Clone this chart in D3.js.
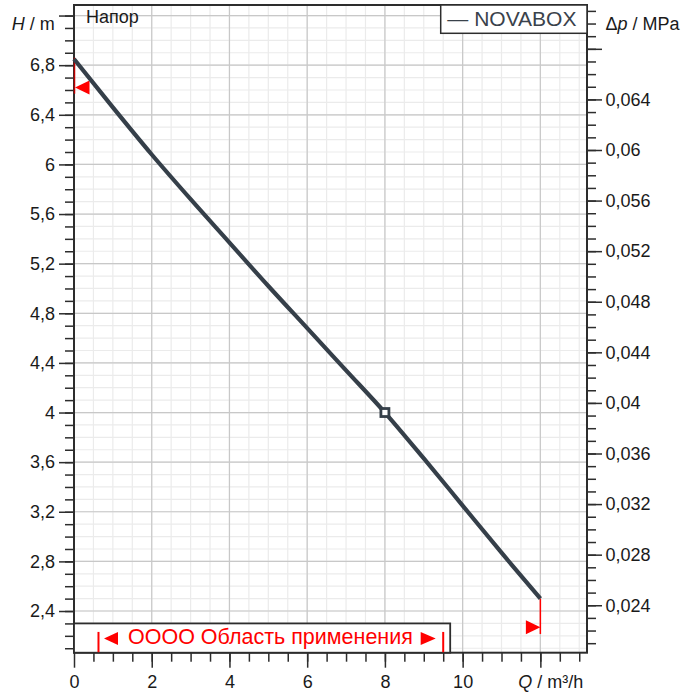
<!DOCTYPE html>
<html>
<head>
<meta charset="utf-8">
<script src="https://cdn.jsdelivr.net/npm/d3@7"></script>
<style>
  html, body { margin: 0; padding: 0; background: #fff; }
  svg { display: block; font-family: "Liberation Sans", Arial, sans-serif; }
</style>
</head>
<body>
<svg id="chart" width="694" height="692"></svg>
<script>
// ---- data ----
const flowQ = [0, 1, 2, 3, 4, 5, 6, 7, 8, 9, 10, 11, 12];
const headH = [6.85, 6.46, 6.08, 5.72, 5.37, 5.02, 4.68, 4.34, 4.00, 3.63, 3.25, 2.87, 2.50];
const dutyPoint = [8, 4.0];
const seriesName = "NOVABOX";
const panelTitle = "Напор";
const xTickLabels = [0, 2, 4, 6, 8, 10];
const xMajorTicks = [0, 2, 4, 6, 8, 10, 12];
const yTickLabels = [2.4, 2.8, 3.2, 3.6, 4, 4.4, 4.8, 5.2, 5.6, 6, 6.4, 6.8];
const yMajorTicks = [2.4, 2.8, 3.2, 3.6, 4, 4.4, 4.8, 5.2, 5.6, 6, 6.4, 6.8, 7.2];
const pTickLabels = [0.024, 0.028, 0.032, 0.036, 0.04, 0.044, 0.048, 0.052, 0.056, 0.06, 0.064];
const pMajorTicks = [0.024, 0.028, 0.032, 0.036, 0.04, 0.044, 0.048, 0.052, 0.056, 0.06, 0.064, 0.068];
const appRangeQ = [0.63, 9.5];
const appBoxQ = [0, 9.68];
const appBoxTopH = 2.3;
const appLabel = "OOOO Область применения";
const leftLimitH = [6.86, 6.57, 6.62];   // line from, line to, arrow position
const rightLimitH = [2.50, 2.215, 2.27];
const MPA_PER_M = 0.00981;

// ---- layout ----
const svg = d3.select("#chart");
const L = 74, R = 587, T = 5, B = 652.7;
const x = d3.scaleLinear().domain([0, 13.2]).range([L, R]);
const y = d3.scaleLinear().domain([2.064, 7.285]).range([B, T]);
const yp = d3.scaleLinear().domain([2.064 * MPA_PER_M, 7.285 * MPA_PER_M]).range([B, T]);

const fmt = d => String(+d.toFixed(3)).replace(".", ",");
const dark = "#2d2d2d";
const curveColor = "#353f49";

// grid
const xMinor = d3.range(0.5, 13.21, 0.5);
const yMinor = d3.range(2.1, 7.29, 0.1);
const g = svg.append("g");
g.selectAll(".vmin").data(xMinor).join("line")
  .attr("x1", d => x(d)).attr("x2", d => x(d)).attr("y1", T).attr("y2", B)
  .attr("stroke", "#ebebeb").attr("stroke-width", 1.2);
g.selectAll(".hmin").data(yMinor).join("line")
  .attr("x1", L).attr("x2", R).attr("y1", d => y(d)).attr("y2", d => y(d))
  .attr("stroke", "#ebebeb").attr("stroke-width", 1.2);
g.selectAll(".vmaj").data(xMajorTicks.slice(1)).join("line")
  .attr("x1", d => x(d)).attr("x2", d => x(d)).attr("y1", T).attr("y2", B)
  .attr("stroke", "#c8c8c8").attr("stroke-width", 1.2);
g.selectAll(".hmaj").data(yMajorTicks).join("line")
  .attr("x1", L).attr("x2", R).attr("y1", d => y(d)).attr("y2", d => y(d))
  .attr("stroke", "#c8c8c8").attr("stroke-width", 1.2);

// axes
function styleAxis(sel) {
  sel.select(".domain").remove();
  sel.selectAll("line").attr("stroke", dark).attr("stroke-width", 1.5);
  sel.selectAll("text").attr("fill", "#1a1a1a").style("font-size", "18px")
     .style("font-family", "'Liberation Sans', Arial, sans-serif");
}
// left
svg.append("g").attr("transform", `translate(${L},0)`)
  .call(d3.axisLeft(y).tickValues(yMinor).tickSize(9).tickFormat("")).call(styleAxis);
svg.append("g").attr("transform", `translate(${L},0)`)
  .call(d3.axisLeft(y).tickValues(yMajorTicks).tickSize(15).tickPadding(4)
        .tickFormat(d => yTickLabels.includes(d) ? fmt(d) : "")).call(styleAxis);
// bottom
svg.append("g").attr("transform", `translate(0,${B})`)
  .call(d3.axisBottom(x).tickValues(xMinor).tickSize(9).tickFormat("")).call(styleAxis);
svg.append("g").attr("transform", `translate(0,${B})`)
  .call(d3.axisBottom(x).tickValues(xMajorTicks).tickSize(15).tickPadding(7.5)
        .tickFormat(d => xTickLabels.includes(d) ? fmt(d) : "")).call(styleAxis);
// right (pressure)
const pMinor = d3.range(0.021, 0.0715, 0.001).map(v => +v.toFixed(3));
svg.append("g").attr("transform", `translate(${R},0)`)
  .call(d3.axisRight(yp).tickValues(pMinor).tickSize(9).tickFormat("")).call(styleAxis);
svg.append("g").attr("transform", `translate(${R},0)`)
  .call(d3.axisRight(yp).tickValues(pMajorTicks).tickSize(15).tickPadding(3.5)
        .tickFormat(d => pTickLabels.includes(d) ? fmt(d) : "")).call(styleAxis);

// frame
svg.append("rect").attr("x", L).attr("y", T).attr("width", R - L).attr("height", B - T)
  .attr("fill", "none").attr("stroke", dark).attr("stroke-width", 2);

// application range box
svg.append("rect").attr("x", x(appBoxQ[0])).attr("y", y(appBoxTopH))
  .attr("width", x(appBoxQ[1]) - x(appBoxQ[0])).attr("height", B - y(appBoxTopH))
  .attr("fill", "#fff").attr("stroke", dark).attr("stroke-width", 1.8);
const boxMid = (y(appBoxTopH) + B) / 2 + 0.5;
svg.selectAll(".appl").data(appRangeQ).join("line")
  .attr("x1", d => x(d)).attr("x2", d => x(d))
  .attr("y1", y(appBoxTopH) + 8.5).attr("y2", B - 0.5)
  .attr("stroke", "#ff0000").attr("stroke-width", 2);
const triL = (tx, ty, w, h) => `M${tx},${ty}L${tx + w},${ty - h}L${tx + w},${ty + h}Z`;
const triR = (tx, ty, w, h) => `M${tx},${ty}L${tx - w},${ty - h}L${tx - w},${ty + h}Z`;
svg.append("path").attr("d", triL(x(appRangeQ[0]) + 5.5, boxMid, 14, 6.5)).attr("fill", "#ff0000");
svg.append("path").attr("d", triR(x(appRangeQ[1]) - 7.5, boxMid, 15, 6.5)).attr("fill", "#ff0000");
svg.append("text").attr("x", x(appRangeQ[0]) + 29.5).attr("y", 643.5)
  .attr("fill", "#ff0000").style("font-size", "21.5px").text(appLabel);

// limit markers
svg.append("line").attr("x1", x(0) + 0.5).attr("x2", x(0) + 0.5)
  .attr("y1", y(leftLimitH[0])).attr("y2", y(leftLimitH[1]))
  .attr("stroke", "#c00000").attr("stroke-width", 1.5);
svg.append("path").attr("d", triL(x(0) + 1, y(leftLimitH[2]), 14.5, 7)).attr("fill", "#ff0000");
svg.append("line").attr("x1", x(12)).attr("x2", x(12))
  .attr("y1", y(rightLimitH[0])).attr("y2", y(rightLimitH[1]))
  .attr("stroke", "#ff0000").attr("stroke-width", 1.5);
svg.append("path").attr("d", triR(x(12), y(rightLimitH[2]), 14.5, 7)).attr("fill", "#ff0000");

// curve
const line = d3.line().x(d => x(d[0])).y(d => y(d[1])).curve(d3.curveMonotoneX);
svg.append("path").datum(flowQ.map((q, i) => [q, headH[i]]))
  .attr("d", line).attr("fill", "none").attr("stroke", curveColor)
  .attr("stroke-width", 4.2).attr("stroke-linejoin", "round");

// duty point
svg.append("rect").attr("x", x(dutyPoint[0]) - 4).attr("y", y(dutyPoint[1]) - 4)
  .attr("width", 8).attr("height", 8).attr("fill", "#fff")
  .attr("stroke", curveColor).attr("stroke-width", 2.8);

// legend
svg.append("rect").attr("x", 440.7).attr("y", T).attr("width", R - 440.7).attr("height", 28.3)
  .attr("fill", "#fff").attr("stroke", dark).attr("stroke-width", 1.5);
svg.append("text").attr("x", 447.3).attr("y", 25.5).attr("fill", "#3a424b")
  .style("font-size", "21px").text("— " + seriesName);

// panel title
svg.append("text").attr("x", 86).attr("y", 23.3).attr("fill", "#1a1a1a")
  .style("font-size", "18px").text(panelTitle);

// axis titles
const ht = svg.append("text").attr("x", 11.7).attr("y", 30).attr("fill", "#1a1a1a").style("font-size", "18px");
ht.append("tspan").style("font-style", "italic").text("H");
ht.append("tspan").text(" / m");
const pt = svg.append("text").attr("x", 605.5).attr("y", 29.5).attr("fill", "#1a1a1a").style("font-size", "18px");
pt.append("tspan").text("Δ");
pt.append("tspan").style("font-style", "italic").text("p");
pt.append("tspan").text(" / MPa");
const qt = svg.append("text").attr("x", 518.3).attr("y", 688).attr("fill", "#1a1a1a").style("font-size", "18px");
qt.append("tspan").style("font-style", "italic").text("Q");
qt.append("tspan").text(" / m³/h");
</script>
</body>
</html>
